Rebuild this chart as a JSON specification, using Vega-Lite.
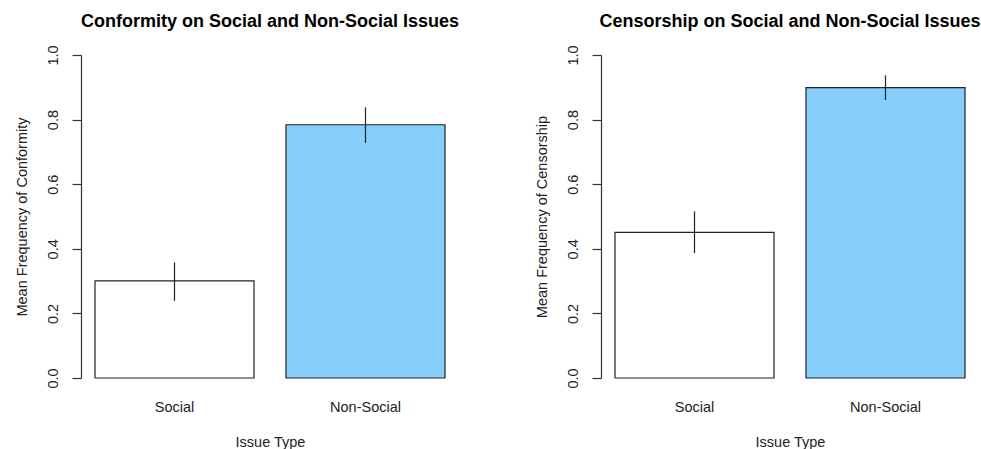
{
  "$schema": "https://vega.github.io/schema/vega-lite/v6.json",
  "background": "white",
  "padding": {"left": 14, "top": 12, "right": 0, "bottom": 0},
  "datasets": {
    "conformity": [
      {"type": "Social", "mean": 0.301, "lo": 0.239, "hi": 0.358},
      {"type": "Non-Social", "mean": 0.784, "lo": 0.728, "hi": 0.838}
    ],
    "censorship": [
      {"type": "Social", "mean": 0.451, "lo": 0.387, "hi": 0.516},
      {"type": "Non-Social", "mean": 0.899, "lo": 0.861, "hi": 0.937}
    ]
  },
  "spacing": 142,
  "bounds": "flush",
  "hconcat": [
    {
      "width": 378,
      "height": 323,
      "title": {"text": "Conformity on Social and Non-Social Issues", "anchor": "middle", "offset": 14},
      "data": {"name": "conformity"},
      "layer": [
        {
          "mark": {"type": "bar", "stroke": "#222222", "strokeWidth": 1.2},
          "encoding": {
            "x": {"field": "type", "type": "nominal", "sort": ["Social", "Non-Social"],
              "scale": {"paddingInner": 0.1675, "paddingOuter": 0.0733},
              "axis": {"title": "Issue Type", "labelAngle": 0, "domain": false, "ticks": false, "tickSize": 0, "labelPadding": 22, "titlePadding": 22}},
            "y": {"field": "mean", "type": "quantitative", "scale": {"domain": [0, 1], "nice": false},
              "axis": {"title": "Mean Frequency of Conformity", "values": [0, 0.2, 0.4, 0.6, 0.8, 1], "format": ".1f", "labelAngle": -90, "tickSize": 9, "labelPadding": 12, "titlePadding": 16}},
            "fill": {"field": "type", "type": "nominal", "scale": {"domain": ["Social", "Non-Social"], "range": ["#ffffff", "#87CEFA"]}, "legend": null}
          }
        },
        {
          "mark": {"type": "rule", "color": "#222222", "strokeWidth": 1.2},
          "encoding": {
            "x": {"field": "type", "type": "nominal", "sort": ["Social", "Non-Social"]},
            "y": {"field": "lo", "type": "quantitative"},
            "y2": {"field": "hi"}
          }
        }
      ]
    },
    {
      "width": 378,
      "height": 323,
      "title": {"text": "Censorship on Social and Non-Social Issues", "anchor": "middle", "offset": 14},
      "data": {"name": "censorship"},
      "layer": [
        {
          "mark": {"type": "bar", "stroke": "#222222", "strokeWidth": 1.2},
          "encoding": {
            "x": {"field": "type", "type": "nominal", "sort": ["Social", "Non-Social"],
              "scale": {"paddingInner": 0.1675, "paddingOuter": 0.0733},
              "axis": {"title": "Issue Type", "labelAngle": 0, "domain": false, "ticks": false, "tickSize": 0, "labelPadding": 22, "titlePadding": 22}},
            "y": {"field": "mean", "type": "quantitative", "scale": {"domain": [0, 1], "nice": false},
              "axis": {"title": "Mean Frequency of Censorship", "values": [0, 0.2, 0.4, 0.6, 0.8, 1], "format": ".1f", "labelAngle": -90, "tickSize": 9, "labelPadding": 12, "titlePadding": 16}},
            "fill": {"field": "type", "type": "nominal", "scale": {"domain": ["Social", "Non-Social"], "range": ["#ffffff", "#87CEFA"]}, "legend": null}
          }
        },
        {
          "mark": {"type": "rule", "color": "#222222", "strokeWidth": 1.2},
          "encoding": {
            "x": {"field": "type", "type": "nominal", "sort": ["Social", "Non-Social"]},
            "y": {"field": "lo", "type": "quantitative"},
            "y2": {"field": "hi"}
          }
        }
      ]
    }
  ],
  "config": {
    "view": {"stroke": null},
    "font": "Liberation Sans",
    "title": {"font": "Liberation Sans", "fontSize": 18, "fontWeight": "bold", "color": "#000000"},
    "axis": {
      "labelFont": "Liberation Sans", "titleFont": "Liberation Sans",
      "labelFontSize": 14.5, "titleFontSize": 14.5, "titleFontWeight": "normal",
      "labelColor": "#222222", "titleColor": "#222222",
      "domainColor": "#333333", "tickColor": "#333333", "domainWidth": 1.2, "tickWidth": 1.2,
      "grid": false
    }
  }
}
